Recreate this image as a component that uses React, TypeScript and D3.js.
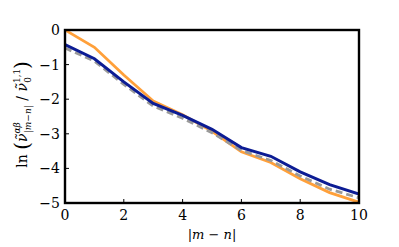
import { useEffect, useRef } from 'react';
import * as d3 from 'd3';

const distances = [0, 1, 2, 3, 4, 5, 6, 7, 8, 9, 10];
const orangeSeries = [0, -0.5, -1.3, -2.05, -2.45, -2.93, -3.52, -3.83, -4.3, -4.7, -4.98];
const blueSeries = [-0.42, -0.83, -1.5, -2.12, -2.47, -2.87, -3.4, -3.65, -4.1, -4.47, -4.74];
const graySeries = [-0.52, -0.9, -1.57, -2.2, -2.55, -2.97, -3.48, -3.77, -4.22, -4.6, -4.85];
const xTicks = [0, 2, 4, 6, 8, 10];
const yTicks = [0, -1, -2, -3, -4, -5];

const App = () => {
  const svgRef = useRef<SVGSVGElement>(null);

  useEffect(() => {
    const margin = { top: 30, right: 40, bottom: 44, left: 65 };
    const width = 399 - margin.left - margin.right;
    const height = 247 - margin.top - margin.bottom;
    const font = "'DejaVu Serif', serif";

    const svgEl = d3.select(svgRef.current);
    svgEl.selectAll('*').remove();

    const svg = svgEl.append('g').attr('transform', `translate(${margin.left},${margin.top})`);

    const x = d3.scaleLinear().domain([0, 10]).range([0, width]);
    const y = d3.scaleLinear().domain([-5, 0]).range([height, 0]);

    const line = d3
      .line<number>()
      .x((_, i) => x(distances[i]))
      .y((d) => y(d));

    svg.append('defs').append('clipPath').attr('id', 'plot').append('rect')
      .attr('width', width).attr('height', height);

    const lines = svg.append('g').attr('clip-path', 'url(#plot)');

    // orange curve
    lines.append('path').datum(orangeSeries)
      .attr('fill', 'none').attr('stroke', '#ffa03a').attr('stroke-width', 2.8)
      .attr('d', line);

    // gray dashed
    lines.append('path').datum(graySeries)
      .attr('fill', 'none').attr('stroke', '#9a9a9a').attr('stroke-width', 2.8)
      .attr('stroke-dasharray', '7,4')
      .attr('d', line);

    // blue curve
    lines.append('path').datum(blueSeries)
      .attr('fill', 'none').attr('stroke', '#0c1c94').attr('stroke-width', 3)
      .attr('d', line);

    // ticks (inward)
    xTicks.forEach((t) => {
      svg.append('line')
        .attr('x1', x(t)).attr('x2', x(t))
        .attr('y1', height).attr('y2', height - 4)
        .attr('stroke', '#000').attr('stroke-width', 1);
      svg.append('text')
        .attr('x', x(t)).attr('y', height + 17)
        .attr('text-anchor', 'middle')
        .style('font-family', font).style('font-size', '14px')
        .text(t);
    });

    yTicks.forEach((t) => {
      svg.append('line')
        .attr('x1', 0).attr('x2', 4)
        .attr('y1', y(t)).attr('y2', y(t))
        .attr('stroke', '#000').attr('stroke-width', 1);
      svg.append('text')
        .attr('x', -5).attr('y', y(t) + 5)
        .attr('text-anchor', 'end')
        .style('font-family', font).style('font-size', '14px')
        .text(t < 0 ? `\u2212${Math.abs(t)}` : `${t}`);
    });

    // frame
    svg.append('rect')
      .attr('width', width).attr('height', height)
      .attr('fill', 'none').attr('stroke', '#000').attr('stroke-width', 2.4);

    // x label
    const xl = svg.append('text')
      .attr('x', width / 2).attr('y', height + 36)
      .attr('text-anchor', 'middle')
      .style('font-family', font).style('font-size', '13px');
    xl.append('tspan').text('|');
    xl.append('tspan').style('font-style', 'italic').text('m');
    xl.append('tspan').text(' \u2212 ');
    xl.append('tspan').style('font-style', 'italic').text('n');
    xl.append('tspan').text('|');

    // y label
    const yl = svgEl.append('text')
      .attr('transform', `translate(27,${margin.top + height / 2 - 2}) rotate(-90)`)
      .attr('text-anchor', 'middle')
      .style('font-family', font).style('font-size', '14px');
    yl.append('tspan').text('ln ');
    yl.append('tspan').style('font-size', '20px').attr('dy', 2).text('(');
    yl.append('tspan').style('font-style', 'italic').attr('dy', -2).text('\u03bd\u0303');
    yl.append('tspan').style('font-style', 'italic').style('font-size', '9px').attr('dy', -7).text('\u03b1\u03b2');
    yl.append('tspan').style('font-size', '9px').attr('dx', -11).attr('dy', 11).text('|');
    yl.append('tspan').style('font-style', 'italic').style('font-size', '9px').text('m');
    yl.append('tspan').style('font-size', '9px').text('\u2212');
    yl.append('tspan').style('font-style', 'italic').style('font-size', '9px').text('n');
    yl.append('tspan').style('font-size', '9px').text('|');
    yl.append('tspan').attr('dy', -4).text(' / ');
    yl.append('tspan').style('font-style', 'italic').text('\u03bd\u0303');
    yl.append('tspan').style('font-size', '9px').attr('dy', -7).text('1,1');
    yl.append('tspan').style('font-size', '9px').attr('dx', -14).attr('dy', 11).text('0');
    yl.append('tspan').style('font-size', '20px').attr('dx', 8).attr('dy', -2).text(')');
  }, []);

  return <svg ref={svgRef} width={399} height={247} style={{ position: 'absolute', left: 0, top: 0 }}></svg>;
};

export default App;
